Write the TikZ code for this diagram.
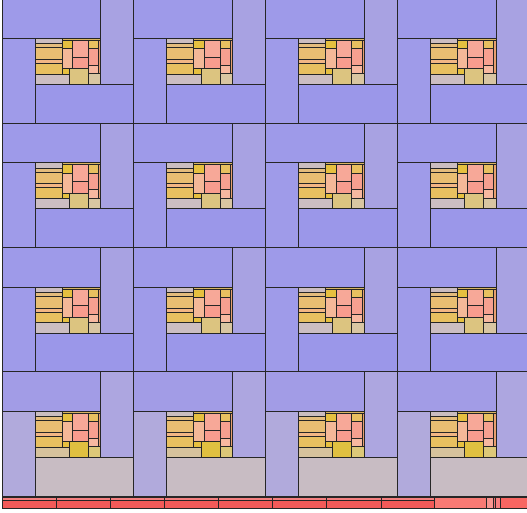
\documentclass[tikz,border=0pt]{standalone}
\definecolor{lavTop}{HTML}{9E9AE9}
\definecolor{lavRight}{HTML}{A8A2E2}
\definecolor{lavLeft}{HTML}{9F9BE9}
\definecolor{lavBot}{HTML}{9B97E9}
\definecolor{lavTopL}{HTML}{A29CE6}
\definecolor{lavRightL}{HTML}{ADA6E0}
\definecolor{lavLeftL}{HTML}{B1AADC}
\definecolor{greyBotL}{HTML}{C8BCC3}
\definecolor{iGrey}{HTML}{CBBDC0}
\definecolor{iTanA}{HTML}{E4BC7C}
\definecolor{iTanB}{HTML}{E9BE72}
\definecolor{iOrange}{HTML}{F2B684}
\definecolor{iGoldA}{HTML}{E8C060}
\definecolor{iTopStrip}{HTML}{D8B462}
\definecolor{iYellow}{HTML}{E6C040}
\definecolor{iSalmon}{HTML}{F4B898}
\definecolor{iSalPink}{HTML}{F7A898}
\definecolor{iPink}{HTML}{F89C8E}
\definecolor{iPinkB}{HTML}{F6A090}
\definecolor{iThin}{HTML}{E8A070}
\definecolor{iLightSal}{HTML}{F7B8A0}
\definecolor{iBotLeft}{HTML}{CCBEC2}
\definecolor{iBotMid}{HTML}{DCC480}
\definecolor{iBotRight}{HTML}{D9C6A2}
\definecolor{iBotLeftL}{HTML}{D6C29C}
\definecolor{iBotMidL}{HTML}{E0C040}
\definecolor{iBotRightL}{HTML}{DCC878}
\definecolor{redTop}{HTML}{F48080}
\definecolor{redLow}{HTML}{F25A58}
\definecolor{redA}{HTML}{F87A74}
\definecolor{redB}{HTML}{F89590}
\definecolor{redC}{HTML}{F07070}
\definecolor{redD}{HTML}{F88080}
\definecolor{redE}{HTML}{F86662}
\begin{document}
\begin{tikzpicture}[x=1pt,y=-1pt,
  r/.style={draw=black!85,line width=1pt}]
\useasboundingbox (0,0) rectangle (527,513);
\begin{scope}
\clip (0,0) rectangle (527,513);
\foreach \i in {0,...,3}{
  \foreach \j in {0,...,3}{
    \pgfmathsetmacro\X{2+\i*131.75}
    \pgfmathsetmacro\Y{-1+\j*124.33}
    \ifnum\j=3
      \colorlet{cT}{lavTopL}\colorlet{cR}{lavRightL}\colorlet{cL}{lavLeftL}\colorlet{cB}{greyBotL}
      \colorlet{cIL}{iBotLeftL}\colorlet{cIM}{iBotMidL}\colorlet{cIR}{iBotRightL}
    \else
      \colorlet{cT}{lavTop}\colorlet{cR}{lavRight}\colorlet{cL}{lavLeft}\colorlet{cB}{lavBot}
      \colorlet{cIL}{iBotLeft}\colorlet{cIM}{iBotMid}\colorlet{cIR}{iBotRight}
    \fi
    \begin{scope}[shift={(\X,\Y)}]
      \filldraw[r,fill=cT] (0,0) rectangle (98.75,39.5);
      \filldraw[r,fill=cR] (98.75,0) rectangle (131.75,85.5);
      \filldraw[r,fill=cB] (33,85.5) rectangle (131.75,124.33);
      \filldraw[r,fill=cL] (0,39.5) rectangle (33,124.33);
      \begin{scope}[shift={(33,39.5)}]
        \filldraw[r,fill=iGrey] (0,0) rectangle (27,5.3);
        \filldraw[r,fill=iTanA] (0,5.3) rectangle (27,9.3);
        \filldraw[r,fill=iTanB] (0,9.3) rectangle (27,21);
        \filldraw[r,fill=iOrange] (0,21) rectangle (27,25);
        \filldraw[r,fill=iGoldA] (0,25) rectangle (27,35.7);
        \filldraw[r,fill=cIL] (0,35.7) rectangle (34.3,46);
        \filldraw[r,fill=iTopStrip] (27,0) rectangle (65.75,2);
        \filldraw[r,fill=iYellow] (27,2) rectangle (37.7,10.3);
        \filldraw[r,fill=iSalmon] (27,10.3) rectangle (37.7,30.3);
        \filldraw[r,fill=iYellow] (27,30.3) rectangle (34.3,35.7);
        \filldraw[r,fill=cIM] (34.3,30.3) rectangle (53.3,46);
        \filldraw[r,fill=iSalPink] (37.7,2) rectangle (53.3,18.7);
        \filldraw[r,fill=iPink] (37.7,18.7) rectangle (53.3,30.3);
        \filldraw[r,fill=iGoldA] (53.3,2) rectangle (63.5,10.3);
        \filldraw[r,fill=iThin] (63.5,2) rectangle (65.75,35.3);
        \filldraw[r,fill=iPinkB] (53.3,10.3) rectangle (63.5,27);
        \filldraw[r,fill=iLightSal] (53.3,27) rectangle (63.5,35.3);
        \filldraw[r,fill=cIR] (53.3,35.3) rectangle (65.75,46);
      \end{scope}
    \end{scope}
  }
}
% bottom strip
\foreach \a/\b in {2/56,56/110,110/164,164/218,218/272,272/326,326/381,381/434}{
  \filldraw[r,fill=redTop] (\a,497) rectangle (\b,500.5);
  \filldraw[r,fill=redLow] (\a,500.5) rectangle (\b,508.5);
}
\filldraw[r,fill=redA] (434,497) rectangle (486,508.5);
\filldraw[r,fill=redB] (486,497) rectangle (493,508.5);
\filldraw[r,fill=redC] (493,497) rectangle (495.5,508.5);
\filldraw[r,fill=redD] (495.5,497) rectangle (500.5,508.5);
\filldraw[r,fill=redE] (500.5,497) rectangle (531,508.5);
\end{scope}
\end{tikzpicture}
\end{document}
